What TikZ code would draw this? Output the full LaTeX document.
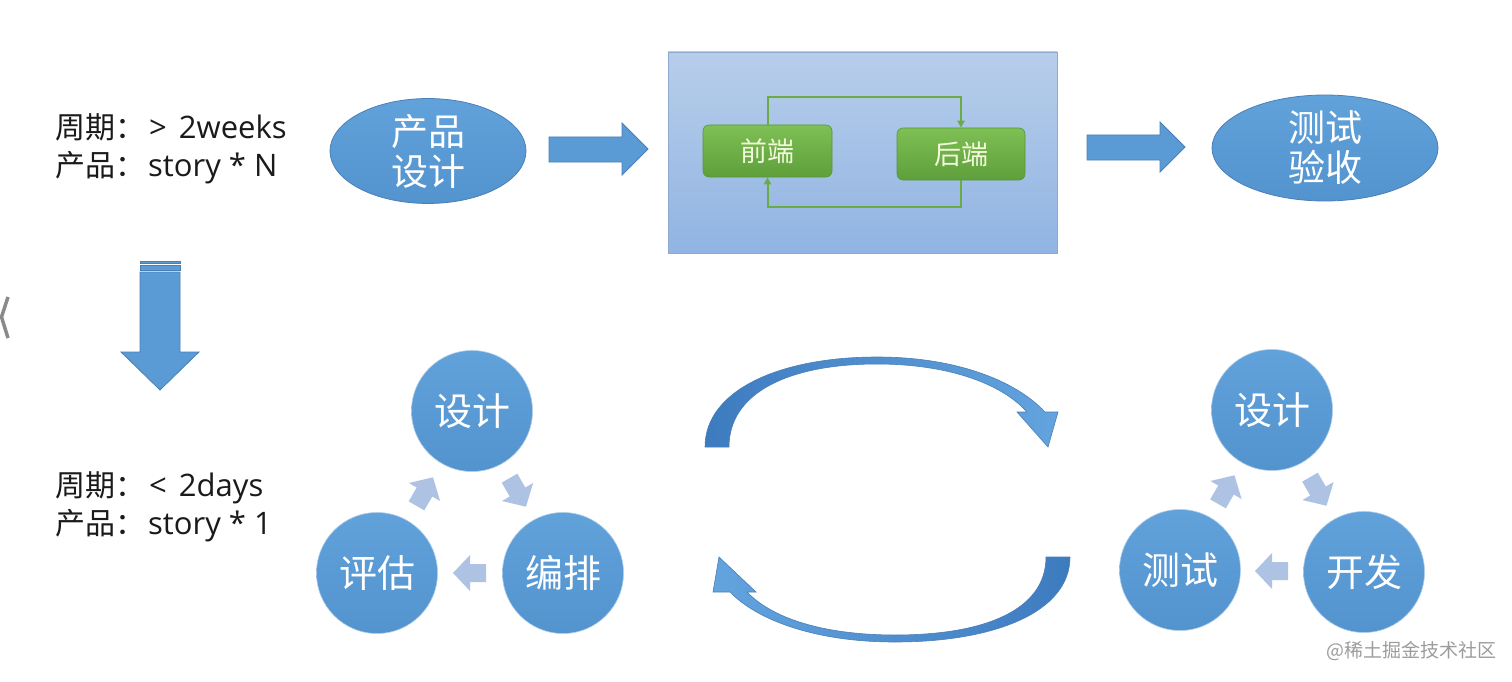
\documentclass[tikz,border=0pt]{standalone}
\usepackage{fontspec}
\setmainfont{Noto Sans CJK SC}
\newfontfamily\latinfont{Open Sans}
\usetikzlibrary{arrows.meta,calc,shapes.geometric}
\definecolor{mblue}{HTML}{5B9BD5}
\definecolor{mblueT}{HTML}{62A2DB}
\definecolor{mblueB}{HTML}{5393CE}
\definecolor{mbord}{HTML}{4A7FB8}
\definecolor{boxT}{HTML}{B7CEEA}
\definecolor{boxB}{HTML}{91B4E3}
\definecolor{boxD}{HTML}{8FA9D0}
\definecolor{gT}{HTML}{7EC054}
\definecolor{gB}{HTML}{5E9F3B}
\definecolor{gD}{HTML}{5A963A}
\definecolor{gline}{HTML}{6AAB45}
\definecolor{gtext}{HTML}{F2F9DC}
\definecolor{sarr}{HTML}{AEC3E3}
\definecolor{cdark}{HTML}{3D7BBF}
\definecolor{clight}{HTML}{63A4DF}
\definecolor{txt}{HTML}{1A1A1A}
\definecolor{wm}{HTML}{9C9C9C}
\definecolor{chev}{HTML}{8A8A8A}
\newcommand\lat[1]{{\latinfont\fontsize{31}{38}\selectfont #1}}
\begin{document}
\begin{tikzpicture}[x=1pt,y=-1pt,
  lefttext/.style={anchor=west, align=left, inner sep=0pt, text=txt, font=\fontsize{30}{38}\selectfont},
  bigell/.style={ellipse, inner sep=0pt, top color=mblueT, bottom color=mblueB, draw=mbord, line width=0.8pt, text=white, align=center, font=\fontsize{37}{40}\selectfont},
  circ/.style={circle, inner sep=0pt, minimum size=121pt, top color=mblueT, bottom color=mblueB, draw=white!50!mblue, line width=0.6pt, text=white, font=\fontsize{38}{40}\selectfont},
  gbox/.style={rectangle, rounded corners=6pt, minimum width=129pt, minimum height=52pt, top color=gT, bottom color=gB, draw=gD, line width=0.6pt, text=gtext, font=\fontsize{27}{30}\selectfont},
  blockarr/.style={fill=mblue, draw=mbord, line width=0.8pt},
  smallarr/.style={fill=sarr},
  gconn/.style={draw=gline, line width=2pt, -{Triangle[length=7pt,width=7pt]}},
  curvarr/.style={draw=mbord, line width=0.6pt},
]
% background / bounding box
\fill[white] (0,0) rectangle (1512,682);
\useasboundingbox (0,0) rectangle (1512,682);

% left texts
\node[lefttext] (t1) at (55,149) {周期：\hspace{4pt}\lat{>\hspace{12pt}2weeks}\\产品：\hspace{3pt}\lat{story * N}};
\node[lefttext] (t2) at (55,507) {周期：\hspace{4pt}\lat{<\hspace{12pt}2days}\\产品：\hspace{3pt}\lat{story * 1}};

% carousel chevron at the left edge
\draw[chev, line width=3.5pt] (8,297) -- (1.5,317) -- (8,338);

% down block arrow
\path[blockarr] (140,261) rectangle (180,263.5);
\path[blockarr] (140,265) rectangle (180,270.5);
\path[blockarr] (140,272) -- (180,272) -- (180,352) -- (199,352) -- (160,390) -- (121,352) -- (140,352) -- cycle;

% top row
\node[bigell, minimum width=196pt, minimum height=98pt] (p) at (428,151) {产品\\设计};
\node[rectangle, minimum width=389pt, minimum height=201pt, top color=boxT, bottom color=boxB, draw=boxD, line width=0.8pt] (box) at (862.5,152.5) {};
\node[bigell, minimum width=226pt, minimum height=106pt] (t) at (1325,148) {测试\\验收};

\path[blockarr] (549,137) -- (622,137) -- (622,123) -- (648,149) -- (622,175) -- (622,162) -- (549,162) -- cycle;
\path[blockarr] (1087,135) -- (1160,135) -- (1160,122) -- (1185,147) -- (1160,172) -- (1160,160) -- (1087,160) -- cycle;

% green nodes inside box
\node[gbox] (fe) at (767.5,151) {前端};
\node[gbox, minimum width=128pt] (be) at (961,154) {后端};
\coordinate (ctop) at (0,97);
\coordinate (cbot) at (0,207);
\draw[gconn] (fe.north) -- (fe.north |- ctop) -| (be.north);
\draw[gconn] (be.south) -- (be.south |- cbot) -| (fe.south);

% left cycle
\node[circ] (ld) at (472,411) {设计};
\node[circ] (lp) at (377,573) {评估};
\node[circ] (lb) at (563,573) {编排};
% right cycle
\node[circ] (rd) at (1272,410) {设计};
\node[circ] (rt) at (1180,570) {测试};
\node[circ] (rk) at (1364,572) {开发};

% small cycle arrows
\foreach \a/\b/\ang in {ld/lb/-60, lb/lp/180, lp/ld/60, rd/rk/-60, rk/rt/180, rt/rd/60}{
  \path[smallarr, shift={($(\a)!0.5!(\b)$)}, rotate=\ang]
    (-16,-9) -- (0,-9) -- (0,-18) -- (17,0) -- (0,18) -- (0,9) -- (-16,9) -- cycle;
}

% curved arrows between cycles
\path[curvarr, left color=cdark, right color=clight]
  (705,447) .. controls (705,390) and (780,357) .. (877,357)
  .. controls (955,357) and (1015,380) .. (1045,412)
  -- (1058,412) -- (1048,447) -- (1017,412) -- (1027,412)
  .. controls (1000,382) and (945,364) .. (877,364)
  .. controls (790,364) and (729,392) .. (729,447) -- cycle;
\path[curvarr, left color=clight, right color=cdark]
  (1070,557) .. controls (1070,612) and (995,642) .. (895,642)
  .. controls (815,642) and (757,620) .. (730,592)
  -- (713,592) -- (719,557) -- (756,592) -- (747,592)
  .. controls (775,621) and (830,635) .. (895,635)
  .. controls (985,635) and (1046,610) .. (1046,557) -- cycle;

% watermark
\node[text=wm, inner sep=0pt, font=\fontsize{19}{22}\selectfont] (wmk) at (1411,651) {@稀土掘金技术社区};
\end{tikzpicture}
\end{document}
